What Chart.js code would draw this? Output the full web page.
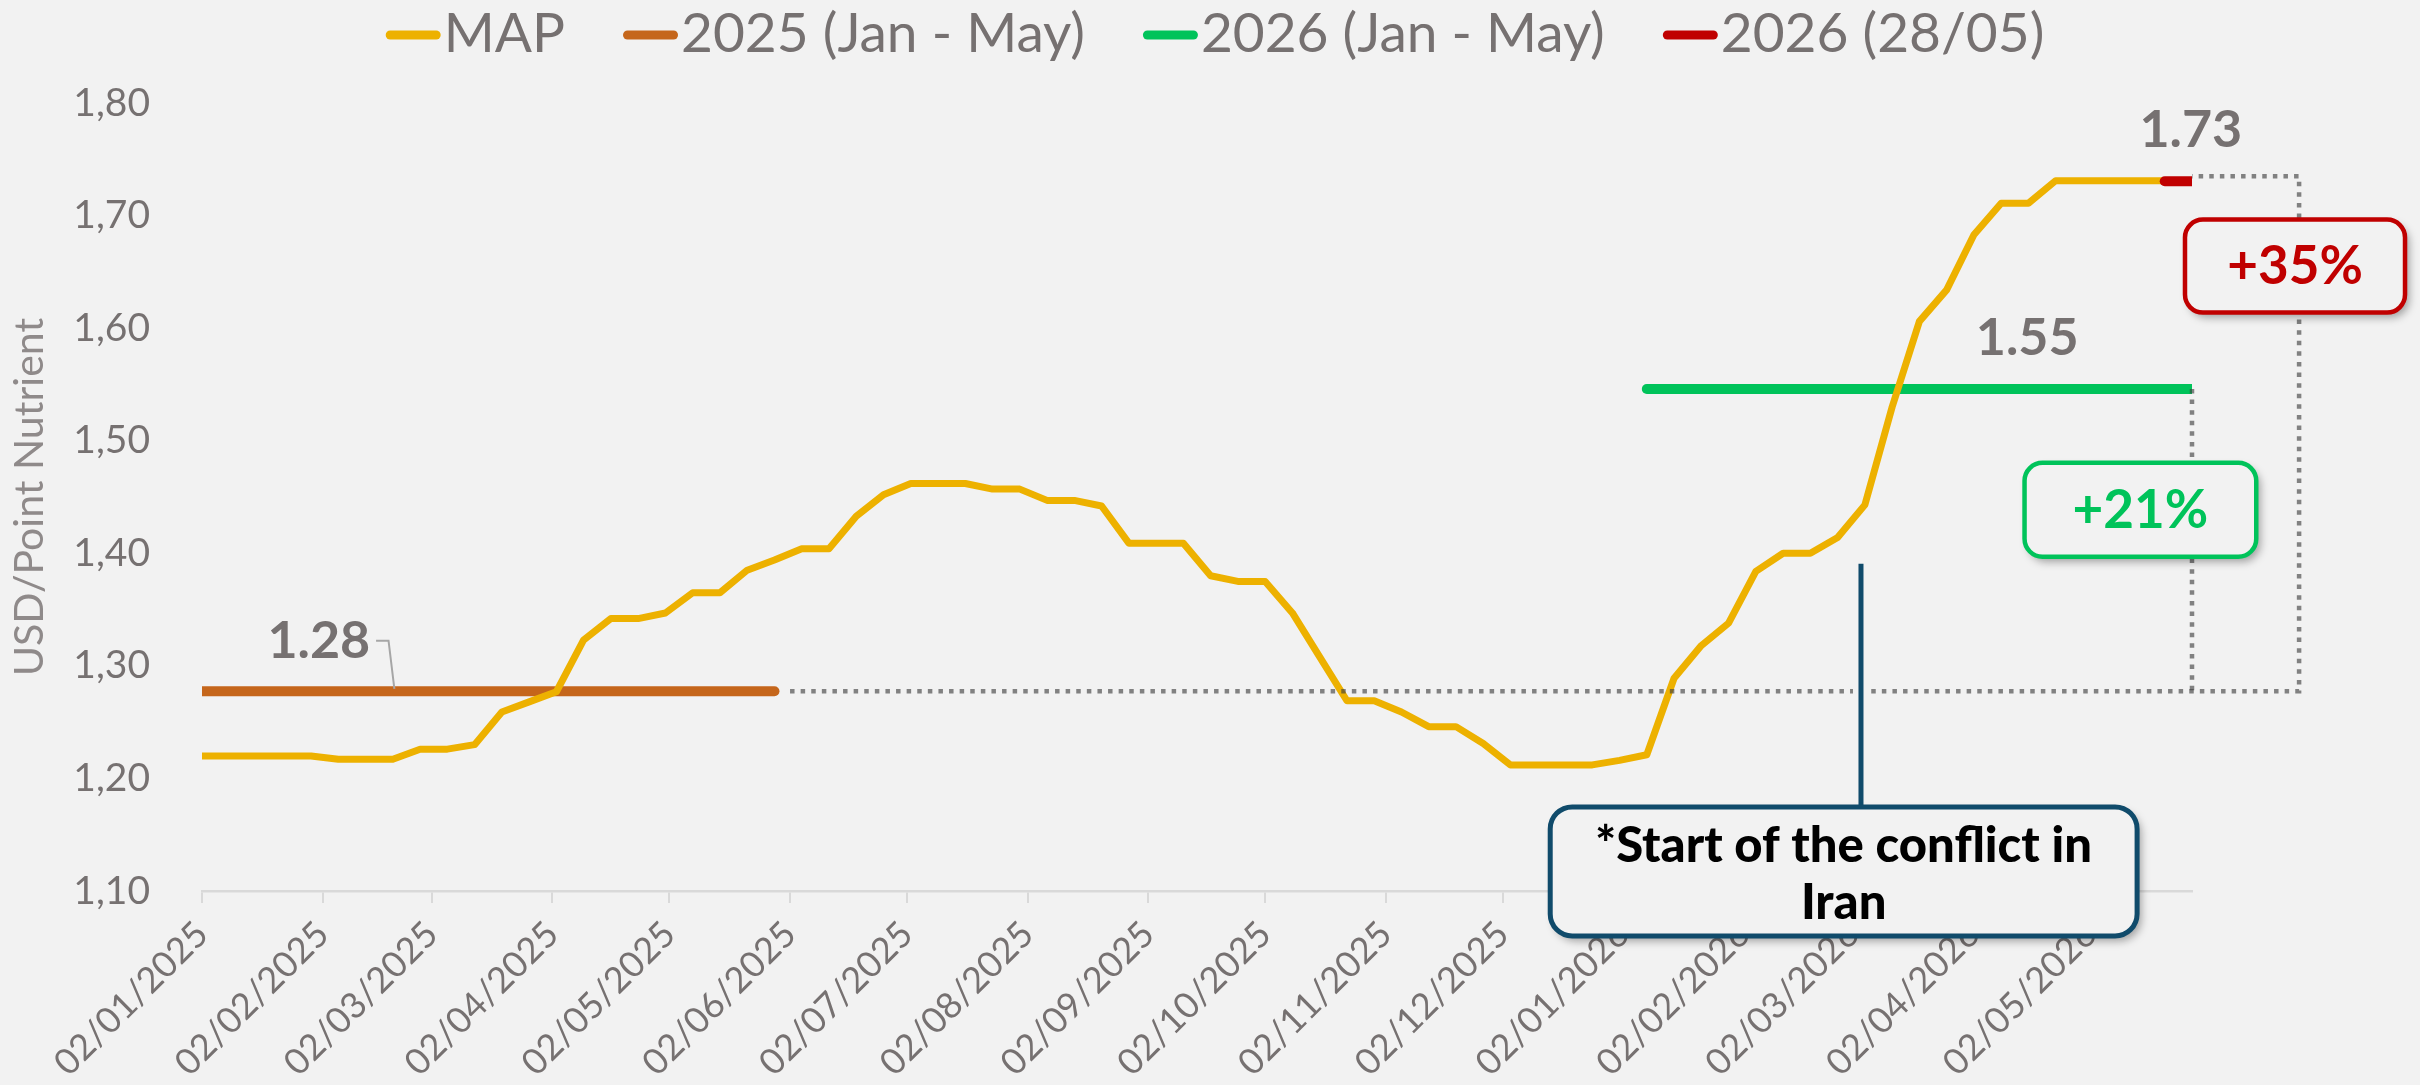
<!DOCTYPE html>
<html>
<head>
<meta charset="utf-8">
<script src="https://cdn.jsdelivr.net/npm/chart.js@4.4.1/dist/chart.umd.min.js"></script>
<style>
html,body{margin:0;padding:0;background:#f2f2f2;}
#wrap{width:2420px;height:1085px;}
</style>
</head>
<body>
<div id="wrap"><canvas id="mapChart" width="2420" height="1085"></canvas></div>
<script>
// MAP USD/punto nutriente, semanal (jueves)
const semanas = [
  '02/01/2025','09/01/2025','16/01/2025','23/01/2025','30/01/2025',
  '06/02/2025','13/02/2025','20/02/2025','27/02/2025',
  '06/03/2025','13/03/2025','20/03/2025','27/03/2025',
  '03/04/2025','10/04/2025','17/04/2025','24/04/2025',
  '01/05/2025','08/05/2025','15/05/2025','22/05/2025','29/05/2025',
  '05/06/2025','12/06/2025','19/06/2025','26/06/2025',
  '03/07/2025','10/07/2025','17/07/2025','24/07/2025','31/07/2025',
  '07/08/2025','14/08/2025','21/08/2025','28/08/2025',
  '04/09/2025','11/09/2025','18/09/2025','25/09/2025',
  '02/10/2025','09/10/2025','16/10/2025','23/10/2025','30/10/2025',
  '06/11/2025','13/11/2025','20/11/2025','27/11/2025',
  '04/12/2025','11/12/2025','18/12/2025','25/12/2025',
  '01/01/2026','08/01/2026','15/01/2026','22/01/2026','29/01/2026',
  '05/02/2026','12/02/2026','19/02/2026','26/02/2026',
  '05/03/2026','12/03/2026','19/03/2026','26/03/2026',
  '02/04/2026','09/04/2026','16/04/2026','23/04/2026','30/04/2026',
  '07/05/2026','14/05/2026','21/05/2026','28/05/2026'
];
const mapValores = [
  1.220,1.220,1.220,1.220,1.220,
  1.217,1.217,1.217,1.226,
  1.226,1.230,1.259,1.268,
  1.277,1.323,1.342,1.342,
  1.347,1.365,1.365,1.385,1.394,
  1.404,1.404,1.433,1.452,
  1.462,1.462,1.462,1.457,1.457,
  1.447,1.447,1.442,1.409,
  1.409,1.409,1.380,1.375,
  1.375,1.347,1.308,1.269,1.269,
  1.259,1.246,1.246,1.231,
  1.212,1.212,1.212,1.212,
  1.216,1.221,1.289,1.318,1.338,
  1.384,1.400,1.400,1.414,
  1.443,1.530,1.606,1.634,
  1.683,1.711,1.711,1.731,1.731,
  1.731,1.731,1.731,1.731
];
const series = ['MAP','2025 (Jan - May)','2026 (Jan - May)','2026 (28/05)'];
const colores = ['#EDB100','#C5661B','#00C35A','#C00000'];
// promedios y tramos
const prom2025 = 1.2775, tramo2025 = ['02/01/2025','29/05/2025'];
const prom2026 = 1.546,  tramo2026 = ['08/01/2026','28/05/2026'];
const ult2805  = 1.7305, tramo2805 = ['21/05/2026','28/05/2026'];
const etiquetasProm = ['1.28','1.55','1.73'];
const variaciones = ['+21%','+35%'];
const conflicto = {fecha:'04/03/2026', texto:['*Start of the conflict in','Iran']};
// ejes
const ticksX = ['02/01/2025','02/02/2025','02/03/2025','02/04/2025','02/05/2025','02/06/2025',
  '02/07/2025','02/08/2025','02/09/2025','02/10/2025','02/11/2025','02/12/2025',
  '02/01/2026','02/02/2026','02/03/2026','02/04/2026','02/05/2026'];
const ticksY = [1.10,1.20,1.30,1.40,1.50,1.60,1.70,1.80];
const tituloY = 'USD/Point Nutrient';

const FONT = 'Lato, "Open Sans", sans-serif';
const GRIS = '#767171', FONDO = '#f2f2f2';
const T0 = Date.UTC(2025,0,2);
function dia(s){ const [d,m,a]=s.split('/').map(Number); return (Date.UTC(a,m-1,d)-T0)/864e5; }
const XMAX = dia(semanas[semanas.length-1]);
const XCORCHETE = 538.5;   // corchete punteado a la derecha del área

const tramo = (t,v) => t.map(s=>({x:dia(s),y:v}));
const punteado = {borderColor:'rgba(60,60,60,0.62)',borderWidth:4.5,borderDash:[4.5,6.1],borderCapStyle:'butt',
  borderJoinStyle:'miter',pointRadius:0,clip:false,tension:0};

const datasets = [
  {label:'_c1',data:[{x:dia(tramo2025[1])+4,y:prom2025},{x:XCORCHETE,y:prom2025},{x:XCORCHETE,y:ult2805+0.0045},{x:XMAX,y:ult2805+0.0045}],order:0,...punteado},
  {label:'_c2',data:[{x:XMAX,y:prom2026},{x:XMAX,y:prom2025}],order:0,...punteado},
  {label:series[3],data:tramo(tramo2805,ult2805),borderColor:colores[3],borderWidth:10,borderCapStyle:'round',pointRadius:0,order:1},
  {label:series[0],data:semanas.map((s,i)=>({x:dia(s),y:mapValores[i]})),borderColor:colores[0],borderWidth:7,
    borderJoinStyle:'round',pointRadius:0,tension:0,order:2},
  {label:series[1],data:tramo(tramo2025,prom2025),borderColor:colores[1],borderWidth:10,borderCapStyle:'round',pointRadius:0,order:3},
  {label:series[2],data:tramo(tramo2026,prom2026),borderColor:colores[2],borderWidth:10,borderCapStyle:'round',pointRadius:0,order:3},
];

function caja(ctx,x0,y0,x1,y1,r,borde,lw){
  ctx.save();
  ctx.shadowColor='rgba(0,0,0,0.35)'; ctx.shadowOffsetX=4; ctx.shadowOffsetY=5; ctx.shadowBlur=8;
  ctx.beginPath(); ctx.roundRect(x0,y0,x1-x0,y1-y0,r); ctx.fillStyle=FONDO; ctx.fill();
  ctx.restore();
  ctx.beginPath(); ctx.roundRect(x0,y0,x1-x0,y1-y0,r); ctx.strokeStyle=borde; ctx.lineWidth=lw; ctx.stroke();
}

const anotaciones = {
  id:'anotaciones',
  afterDraw(chart){
    const {ctx, scales:{x,y}} = chart;
    const P = (d,v) => [x.getPixelForValue(d), y.getPixelForValue(v)];
    ctx.save();
    // leyenda
    const items = chart.data.datasets.filter(d=>!d.label.startsWith('_'))
      .sort((a,b)=>series.indexOf(a.label)-series.indexOf(b.label));
    ctx.font = `55px ${FONT}`;
    const sw=55, gt=3, gi=58;
    const anchos = items.map(d=>ctx.measureText(d.label).width);
    let total = anchos.reduce((a,w)=>a+sw+gt+w,0) + gi*(items.length-1);
    let lx = chart.width/2 + 5 - total/2;
    items.forEach((d,i)=>{
      ctx.beginPath(); ctx.moveTo(lx+4.5,35); ctx.lineTo(lx+sw-4.5,35);
      ctx.strokeStyle=d.borderColor; ctx.lineWidth=9; ctx.lineCap='round'; ctx.stroke();
      ctx.fillStyle=GRIS; ctx.textAlign='left'; ctx.textBaseline='middle';
      ctx.fillText(d.label, lx+sw+gt, 34);
      lx += sw+gt+anchos[i]+gi;
    });
    ctx.lineCap='butt';
    // etiquetas de promedios
    ctx.font = `bold 52px ${FONT}`; ctx.fillStyle=GRIS; ctx.textAlign='center'; ctx.textBaseline='middle';
    let p = P(30,1.3222); ctx.fillText(etiquetasProm[0],p[0],p[1]);
    p = P(468.7,1.5907); ctx.fillText(etiquetasProm[1],p[0],p[1]);
    p = P(510.7,1.7756); ctx.fillText(etiquetasProm[2],p[0],p[1]);
    // guía de la etiqueta 1.28
    ctx.beginPath(); ctx.moveTo(...P(44.7,1.3224)); ctx.lineTo(...P(47.9,1.3224)); ctx.lineTo(...P(49.4,prom2025+0.002));
    ctx.strokeStyle='#a6a6a6'; ctx.lineWidth=2; ctx.stroke();
    // línea del conflicto
    const cx = x.getPixelForValue(dia(conflicto.fecha));
    const yTop = y.getPixelForValue(1.3907), yBox = y.getPixelForValue(1.1747);
    ctx.beginPath(); ctx.moveTo(cx,yTop); ctx.lineTo(cx,yBox);
    ctx.strokeStyle=FONDO; ctx.lineWidth=16; ctx.stroke();
    ctx.strokeStyle='#104B6B'; ctx.lineWidth=5; ctx.stroke();
    // cajas
    let a = P(346.2,1.1747), b = P(496.9,1.06);
    caja(ctx,a[0],a[1],b[0],b[1],22,'#104B6B',5);
    ctx.font = `900 49px ${FONT}`; ctx.fillStyle='#000'; ctx.textAlign='center'; ctx.textBaseline='middle';
    ctx.fillText(conflicto.texto[0],(a[0]+b[0])/2,a[1]+39);
    ctx.fillText(conflicto.texto[1],(a[0]+b[0])/2,a[1]+96);
    a = P(468.0,1.4804); b = P(527.5,1.3969);
    caja(ctx,a[0],a[1],b[0],b[1],18,colores[2],4.5);
    ctx.font = `bold 53px ${FONT}`; ctx.fillStyle=colores[2];
    ctx.fillText(variaciones[0],(a[0]+b[0])/2,(a[1]+b[1])/2+1);
    a = P(509.2,1.6964); b = P(565.7,1.6138);
    caja(ctx,a[0],a[1],b[0],b[1],18,colores[3],4.5);
    ctx.fillStyle=colores[3];
    ctx.fillText(variaciones[1],(a[0]+b[0])/2,(a[1]+b[1])/2+1);
    ctx.restore();
  }
};

new Chart(document.getElementById('mapChart').getContext('2d'),{
  type:'line',
  data:{datasets},
  options:{
    responsive:false, animation:false, devicePixelRatio:1,
    layout:{padding:{top:103,right:228,left:0,bottom:0}},
    plugins:{legend:{display:false},tooltip:{enabled:false}},
    scales:{
      x:{type:'linear',min:0,max:XMAX,
        afterBuildTicks:s=>{ s.ticks = ticksX.map(t=>({value:dia(t)})); },
        afterFit:s=>{ s.height = 194; },
        border:{display:true,color:'#d9d9d9',width:2.5},
        grid:{drawOnChartArea:false,drawTicks:true,tickLength:12,color:'#d9d9d9',lineWidth:2},
        ticks:{autoSkip:false,minRotation:45,maxRotation:45,padding:10,color:GRIS,font:{family:FONT,size:36},
          callback:(v,i)=>ticksX[i]}},
      y:{type:'linear',min:1.1,max:1.8,
        afterBuildTicks:s=>{ s.ticks = ticksY.map(v=>({value:v})); },
        afterFit:s=>{ s.width = 202; },
        border:{display:false},
        grid:{display:false,drawTicks:false},
        ticks:{padding:52,color:GRIS,font:{family:FONT,size:39},callback:v=>v.toFixed(2).replace('.',',')},
        title:{display:true,text:tituloY,color:'#8f8a8a',font:{family:FONT,size:41},padding:{top:5,bottom:0}}}
    }
  },
  plugins:[anotaciones]
});
</script>
</body>
</html>
